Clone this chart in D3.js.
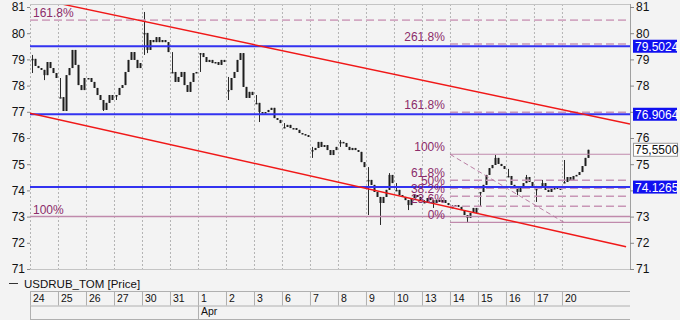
<!DOCTYPE html>
<html>
<head>
<meta charset="utf-8">
<script src="https://cdn.jsdelivr.net/npm/d3@7"></script>
<style>
  body { margin: 0; background: #f3f3f3; }
  svg { display: block; font-family: "Liberation Sans", Arial, sans-serif; }
</style>
</head>
<body>
<svg id="chart" width="680" height="320"></svg>
<script>
// day cells on the time axis
const dayLabels = ['24','25','26','27','30','31','1','2','3','6','7','8','9','10','13','14','15','16','17','20'];
const monthNames = ['Apr'];
const monthStarts = [6];          // index of the first day of the month

// 9 bars per day, close prices
const closes = [
  [79.02, 78.75, 78.67, 78.60, 78.40, 78.90, 78.67, 78.48, 78.29],   // 24
  [77.56, 77.03, 78.40, 78.67, 79.36, 78.79, 78.02, 77.83, 78.29],   // 25
  [78.29, 78.14, 77.91, 77.64, 77.45, 77.07, 77.34, 77.64, 77.45],   // 26
  [77.64, 77.91, 78.02, 78.52, 78.98, 79.28, 78.98, 78.67, 78.86],   // 27
  [80.01, 79.36, 79.74, 79.66, 79.85, 79.66, 79.74, 79.66, 79.28],   // 30
  [78.52, 78.14, 78.33, 78.52, 78.02, 77.76, 78.14, 78.48, 78.52],   // 31
  [79.24, 79.09, 78.90, 78.98, 78.86, 78.90, 78.79, 78.98, 78.90],   // 1
  [77.83, 78.29, 78.52, 78.98, 79.24, 77.95, 77.53, 77.76, 77.64],   // 2
  [77.34, 76.99, 76.95, 76.99, 77.07, 77.15, 76.76, 76.69, 76.57],   // 3
  [76.42, 76.50, 76.38, 76.38, 76.31, 76.19, 76.15, 76.11, 76.04],   // 6
  [75.54, 75.62, 75.85, 75.66, 75.73, 75.54, 75.35, 75.54, 75.66],   // 7
  [75.85, 75.81, 75.66, 75.54, 75.62, 75.54, 75.47, 75.08, 74.89],   // 8
  [74.40, 74.21, 73.94, 73.75, 73.52, 73.75, 74.02, 74.59, 74.28],   // 9
  [74.02, 73.82, 73.75, 73.63, 73.44, 73.71, 73.82, 73.75, 73.63],   // 10
  [73.56, 73.71, 73.63, 73.52, 73.63, 73.56, 73.63, 73.52, 73.44],   // 13
  [73.37, 73.44, 73.37, 73.25, 73.06, 72.95, 73.14, 73.33, 73.14],   // 14
  [73.94, 74.21, 74.59, 74.85, 74.97, 75.24, 75.01, 74.93, 74.82],   // 15
  [74.55, 74.21, 74.13, 73.94, 74.09, 74.28, 74.51, 74.32, 74.17],   // 16
  [74.06, 74.13, 74.28, 74.02, 73.94, 74.09, 74.06, 74.13, 74.02],   // 17
  [74.32, 74.51, 74.36, 74.55, 74.59, 74.70, 74.93, 75.24, 75.55]    // 20
];
// wicks: [day, bar, price]
const wickHigh = [[0,0,79.17],[1,0,78.29],[4,0,80.81],[5,0,79.28],[7,0,78.33],[8,0,77.64],
  [9,0,76.57],[10,0,75.66],[11,0,75.92],[12,0,74.89],[12,7,74.66],[13,0,74.28],[14,0,73.63],
  [15,0,73.44],[16,5,75.35],[17,0,74.82],[17,6,74.59],[18,0,74.17],[18,2,74.40],[19,0,75.16]];
const wickLow = [[0,0,78.48],[0,4,78.21],[2,5,77.03],[3,0,77.45],[4,0,79.17],[4,1,79.24],
  [6,0,78.52],[7,0,77.45],[8,1,76.61],[10,0,75.24],[11,0,75.66],[12,0,73.06],[12,4,72.68],
  [13,4,73.25],[14,3,73.33],[15,5,72.76],[16,0,73.37],[17,3,73.82],[18,0,73.56]];
const lastPrice = 75.55;

// horizontal levels
const blueLevels = [79.5024, 76.9064, 74.1265];
const leftFibPrices = [73, 80.5];
const leftFibLabels = ['100%', '161.8%'];
const fibRatios = [0, 0.236, 0.382, 0.5, 0.618, 1, 1.618, 2.618];
const fibLabels = ['0%', '23.6%', '38.2%', '50%', '61.8%', '100%', '161.8%', '261.8%'];
const fibLow = 72.78, fibHigh = 75.38;
const fibStart = 15, fibLowTime = 19.07;
// red channel: [[time, price], [time, price]]
const trendLines = [
  [[1.143, 81.11], [21.43, 76.53]],
  [[0, 76.95], [21.29, 71.85]]
];

const L = 30, R = 630, T = 4, B = 270;
const svg = d3.select('#chart');
const x = d3.scaleLinear().domain([0, 21.43]).range([L, R]);
const y = d3.scaleLinear().domain([71, 81]).range([269, 7]);

svg.append('rect').attr('width', 680).attr('height', 320).attr('fill', '#f3f3f3');

svg.append('clipPath').attr('id', 'plot')
  .append('rect').attr('x', L).attr('y', T).attr('width', R - L).attr('height', B - T);
const g = svg.append('g').attr('clip-path', 'url(#plot)');

// vertical dotted grid at day boundaries
g.selectAll('.grid').data(d3.range(dayLabels.length)).enter().append('line')
  .attr('x1', d => x(d) + 0.5).attr('x2', d => x(d) + 0.5)
  .attr('y1', T).attr('y2', B)
  .attr('stroke', '#b4b4b4').attr('stroke-dasharray', '2,2');

// frame
svg.append('line').attr('x1', L).attr('x2', R).attr('y1', T + 0.5).attr('y2', T + 0.5).attr('stroke', '#c4c4c4');
svg.append('line').attr('x1', L).attr('x2', R).attr('y1', B - 0.5).attr('y2', B - 0.5).attr('stroke', '#c4c4c4');
svg.append('line').attr('x1', R + 0.5).attr('x2', R + 0.5).attr('y1', T).attr('y2', B).attr('stroke', '#a0a0a0');

// bars
const bars = [];
closes.forEach((day, d) => day.forEach((c, i) => {
  const open = i === 0 ? c : day[i - 1];
  let hi = Math.max(open, c), lo = Math.min(open, c);
  wickHigh.forEach(w => { if (w[0] === d && w[1] === i) hi = Math.max(hi, w[2]); });
  wickLow.forEach(w => { if (w[0] === d && w[1] === i) lo = Math.min(lo, w[2]); });
  bars.push({ t: d + (i + 0.5) / 9, open, close: c, hi, lo });
}));
g.selectAll('.wick').data(bars).enter().append('line')
  .attr('x1', d => Math.round(x(d.t)) + 0.5).attr('x2', d => Math.round(x(d.t)) + 0.5)
  .attr('y1', d => y(d.hi)).attr('y2', d => y(d.lo))
  .attr('stroke', '#2a2a2a').attr('stroke-width', 1);
g.selectAll('.body').data(bars).enter().append('rect')
  .attr('x', d => Math.round(x(d.t)) - 0.5).attr('width', 2)
  .attr('y', d => y(Math.max(d.open, d.close)))
  .attr('height', d => Math.max(1.5, Math.abs(y(d.open) - y(d.close))))
  .attr('fill', '#1e1e1e');

// left fibonacci levels (full width)
leftFibPrices.forEach((p, i) => {
  g.append('line').attr('x1', L).attr('x2', R).attr('y1', y(p)).attr('y2', y(p))
    .attr('stroke', i === 0 ? '#c08aac' : '#d2a8c2')
    .attr('stroke-width', i === 0 ? 1.5 : 1.6)
    .attr('stroke-dasharray', i === 0 ? null : '8,4');
  svg.append('text').attr('x', L + 3).attr('y', y(p) - 3)
    .style('font-size', '12px').attr('fill', '#8c2c6a').text(leftFibLabels[i]);
});

// right fibonacci tool
fibRatios.forEach((r, i) => {
  const p = fibLow + r * (fibHigh - fibLow);
  const solid = r === 0 || r === 1;
  g.append('line').attr('x1', x(fibStart)).attr('x2', R).attr('y1', y(p)).attr('y2', y(p))
    .attr('stroke', solid ? '#c08aac' : '#c896b6')
    .attr('stroke-width', solid ? 1.2 : 1.5)
    .attr('stroke-dasharray', solid ? null : '8,4');
  svg.append('text').attr('x', x(fibStart) - 5).attr('y', y(p) - 3)
    .attr('text-anchor', 'end').style('font-size', '12px').attr('fill', '#8c2c6a')
    .text(fibLabels[i]);
});
g.append('line')
  .attr('x1', x(fibStart)).attr('y1', y(fibHigh))
  .attr('x2', x(fibLowTime)).attr('y2', y(fibLow))
  .attr('stroke', '#b97ea3').attr('stroke-width', 1).attr('stroke-dasharray', '5,3');

// blue horizontal lines
g.selectAll('.blue').data(blueLevels).enter().append('line')
  .attr('x1', L).attr('x2', R).attr('y1', d => y(d)).attr('y2', d => y(d))
  .attr('stroke', '#3232f0').attr('stroke-width', 2);

// red channel
g.selectAll('.trend').data(trendLines).enter().append('line')
  .attr('x1', d => x(d[0][0])).attr('y1', d => y(d[0][1]))
  .attr('x2', d => x(d[1][0])).attr('y2', d => y(d[1][1]))
  .attr('stroke', '#f01818').attr('stroke-width', 1.5);

// y axes
const ticks = d3.range(71, 82);
const leftAxis = svg.append('g').attr('transform', `translate(${L},0)`)
  .call(d3.axisLeft(y).tickValues(ticks).tickSize(3).tickPadding(2).tickFormat(d3.format('d')));
const rightAxis = svg.append('g').attr('transform', `translate(${R},0)`)
  .call(d3.axisRight(y).tickValues(ticks).tickSize(4).tickPadding(2).tickFormat(d3.format('d')));
[leftAxis, rightAxis].forEach(a => {
  a.select('.domain').remove();
  a.selectAll('line').attr('stroke', '#888');
  a.selectAll('text').style('font-size', '12px').attr('fill', '#111')
    .style('font-family', '"Liberation Sans", Arial, sans-serif');
});
// labels hidden behind the price tags
const tagPrices = blueLevels.concat([lastPrice]);
rightAxis.selectAll('.tick text')
  .filter(d => tagPrices.some(p => Math.abs(y(p) - y(d)) < 9))
  .remove();

// price tags on the right
blueLevels.forEach(p => {
  svg.append('rect').attr('x', 633).attr('y', y(p) - 6.5).attr('width', 44).attr('height', 13).attr('fill', '#1010f0');
  svg.append('text').attr('x', 635).attr('y', y(p) + 4.5).style('font-size', '12px').attr('fill', '#fff')
    .text(p.toFixed(4));
});
svg.append('rect').attr('x', 633.5).attr('y', y(lastPrice) - 6.5).attr('width', 44).attr('height', 13)
  .attr('fill', '#fff').attr('stroke', '#999');
svg.append('text').attr('x', 635).attr('y', y(lastPrice) + 4.5).style('font-size', '12px').attr('fill', '#111')
  .text(lastPrice.toFixed(4).replace('.', ','));

// legend
svg.append('line').attr('x1', 9).attr('x2', 18).attr('y1', 283.5).attr('y2', 283.5).attr('stroke', '#333');
svg.append('text').attr('x', 24).attr('y', 287.5).style('font-size', '11.5px').attr('fill', '#111')
  .text('USDRUB_TOM [Price]');

// date table
const rowTop = 291, rowMid = 305.5, rowBot = 319;
[rowTop, rowMid, rowBot].forEach(yy => svg.append('line')
  .attr('x1', L).attr('x2', R).attr('y1', yy + 0.5).attr('y2', yy + 0.5).attr('stroke', '#b0b0b0'));
svg.selectAll('.daysep').data(d3.range(dayLabels.length)).enter().append('line')
  .attr('x1', d => x(d) + 0.5).attr('x2', d => x(d) + 0.5)
  .attr('y1', rowTop).attr('y2', rowMid).attr('stroke', '#b0b0b0');
svg.selectAll('.daylab').data(dayLabels).enter().append('text')
  .attr('x', (d, i) => x(i) + 3).attr('y', 302)
  .style('font-size', '10.5px').attr('fill', '#111').text(d => d);
[0].concat(monthStarts).forEach(d => svg.append('line')
  .attr('x1', x(d) + 0.5).attr('x2', x(d) + 0.5).attr('y1', rowMid).attr('y2', rowBot).attr('stroke', '#b0b0b0'));
monthStarts.forEach((d, i) => svg.append('text')
  .attr('x', x(d) + 3).attr('y', 315).style('font-size', '10.5px').attr('fill', '#111').text(monthNames[i]));
</script>
</body>
</html>
